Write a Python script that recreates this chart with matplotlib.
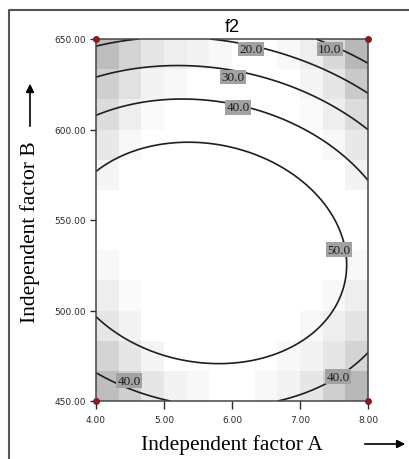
import matplotlib
matplotlib.use('Agg')
import matplotlib.pyplot as plt
from matplotlib.lines import Line2D
from matplotlib.patches import FancyArrowPatch
import numpy as np

# factor ranges and ticks
a_ticks = [4.0, 5.0, 6.0, 7.0, 8.0]
b_ticks = [450.0, 500.0, 550.0, 600.0, 650.0]
levels = [10.0, 20.0, 30.0, 40.0, 50.0]

# quadratic model of f2 in coded units (u=(A-6)/2, v=(B-550)/100)
b0, bA, bB, bAB, bAA, bBB = 59.2, -4.75, -11.3, -3.6, -9.8, -29.0

# design points (corners)
design_a = [4.0, 8.0, 4.0, 8.0]
design_b = [450.0, 450.0, 650.0, 650.0]

# contour labels: (level, A, B)
label_level = [10.0, 20.0, 30.0, 40.0, 50.0, 40.0, 40.0]
label_a = [7.44, 6.28, 6.01, 6.09, 7.57, 4.49, 7.56]
label_b = [644.5, 644.5, 629.0, 612.4, 533.7, 461.3, 463.5]

# background gray shading (darkness), rows from top (B=650) down
shade = np.array([
    [0.26, 0.17, 0.10, 0.07, 0.05, 0.03, 0.00, 0.00, 0.03, 0.07, 0.15, 0.28],
    [0.19, 0.12, 0.05, 0.03, 0.00, 0.00, 0.00, 0.00, 0.00, 0.04, 0.10, 0.21],
    [0.14, 0.07, 0.02, 0.00, 0.00, 0.00, 0.00, 0.00, 0.00, 0.02, 0.07, 0.14],
    [0.09, 0.03, 0.00, 0.00, 0.00, 0.00, 0.00, 0.00, 0.00, 0.00, 0.03, 0.09],
    [0.04, 0.00, 0.00, 0.00, 0.00, 0.00, 0.00, 0.00, 0.00, 0.00, 0.00, 0.05],
    [0.00, 0.00, 0.00, 0.00, 0.00, 0.00, 0.00, 0.00, 0.00, 0.00, 0.00, 0.00],
    [0.00, 0.00, 0.00, 0.00, 0.00, 0.00, 0.00, 0.00, 0.00, 0.00, 0.00, 0.00],
    [0.03, 0.00, 0.00, 0.00, 0.00, 0.00, 0.00, 0.00, 0.00, 0.00, 0.00, 0.03],
    [0.07, 0.02, 0.00, 0.00, 0.00, 0.00, 0.00, 0.00, 0.00, 0.00, 0.03, 0.07],
    [0.10, 0.05, 0.00, 0.00, 0.00, 0.00, 0.00, 0.00, 0.00, 0.03, 0.07, 0.11],
    [0.17, 0.10, 0.04, 0.00, 0.00, 0.00, 0.00, 0.00, 0.03, 0.05, 0.10, 0.17],
    [0.26, 0.19, 0.10, 0.05, 0.03, 0.00, 0.00, 0.03, 0.05, 0.10, 0.19, 0.28],
])

fig = plt.figure(figsize=(4.09, 4.60), dpi=100)
W, H = 409.0, 460.0
ax = fig.add_axes([96 / W, 1 - 402 / H, 272 / W, 362 / H])

# shading
a_edges = np.linspace(4, 8, shade.shape[1] + 1)
b_edges = np.linspace(650, 450, shade.shape[0] + 1)
ax.pcolormesh(a_edges, b_edges, shade, cmap='gray_r', vmin=0, vmax=1, shading='flat', zorder=0)

# model surface
A = np.linspace(4, 8, 300)
B = np.linspace(450, 650, 300)
AA, BB = np.meshgrid(A, B)
u = (AA - 6) / 2
v = (BB - 550) / 100
Z = b0 + bA * u + bB * v + bAB * u * v + bAA * u ** 2 + bBB * v ** 2

ax.contour(AA, BB, Z, levels=levels, colors='#1e1e1e', linewidths=1.2, zorder=2)
for lv, la, lb in zip(label_level, label_a, label_b):
    ax.text(la, lb, '%.1f' % lv, ha='center', va='center', fontsize=9.5,
            family='Liberation Serif', color='#1e1e1e', zorder=4,
            bbox=dict(facecolor='#a2a2a2', edgecolor='none', pad=1.0))

ax.scatter(design_a, design_b, s=16, marker='o', color='#8a1c24', zorder=5, clip_on=False)

ax.set_xlim(4, 8)
ax.set_ylim(450, 650)
ax.set_xticks(a_ticks)
ax.set_yticks(b_ticks)
ax.set_xticklabels(['%.2f' % a for a in a_ticks])
ax.set_yticklabels(['%.2f' % b for b in b_ticks])
ax.tick_params(direction='out', width=1, colors='#2a2a2a', labelsize=6.5)
ax.tick_params(axis='x', length=6, pad=4)
ax.tick_params(axis='y', length=4, pad=3)
for sp in ax.spines.values():
    sp.set_color('#444444')
    sp.set_linewidth(1.1)

ax.set_title('f2', fontsize=13, family='Liberation Sans', pad=6)
ax.set_xlabel('Independent factor A', fontsize=15.5, family='Liberation Serif', labelpad=7)
ax.set_ylabel('Independent factor B', fontsize=15.5, family='Liberation Serif', va='center')
ax.yaxis.set_label_coords(-0.243, 0.47)

# arrows next to axis titles
fig.add_artist(FancyArrowPatch((30 / W, 1 - 130 / H), (30 / W, 1 - 82 / H),
                               transform=fig.transFigure, arrowstyle='-|>',
                               mutation_scale=12, color='black', lw=1.2))
fig.add_artist(FancyArrowPatch((362 / W, 1 - 445 / H), (408 / W, 1 - 445 / H),
                               transform=fig.transFigure, arrowstyle='-|>',
                               mutation_scale=12, color='black', lw=1.2))

# outer frame
fig.add_artist(Line2D([9 / W, 9 / W, 1.0], [0.0, 1 - 11 / H, 1 - 11 / H],
                      transform=fig.transFigure, color='#555555', lw=1.5))

fig.savefig('out.png', dpi=100)
